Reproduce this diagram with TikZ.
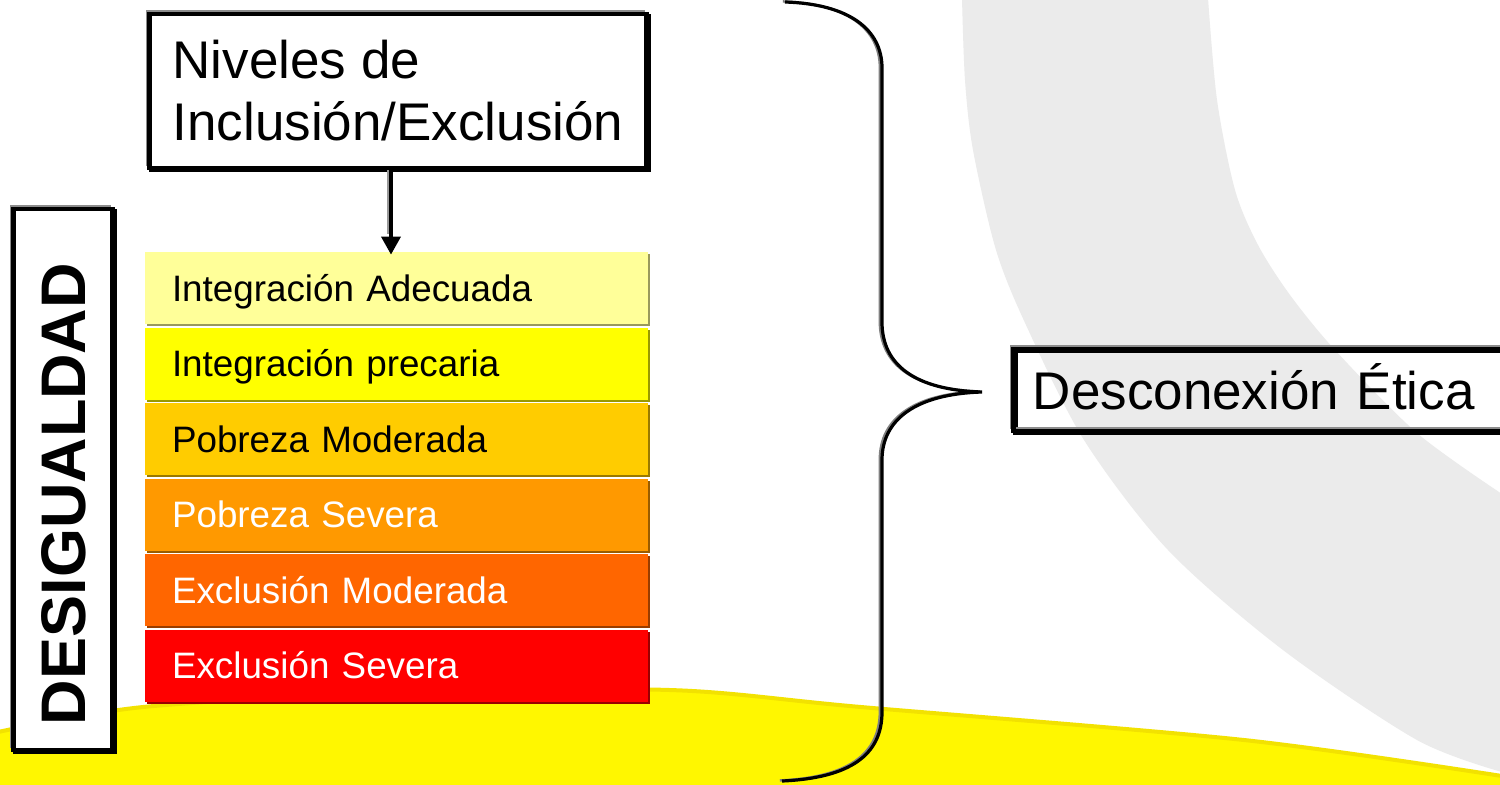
\documentclass[tikz,border=0pt]{standalone}
\usepackage{fontspec}
\setmainfont{Liberation Sans}
\usetikzlibrary{arrows.meta,shadows}
\definecolor{bggrey}{HTML}{EBEBEB}
\definecolor{bgyellow}{HTML}{FFF700}
\definecolor{bgyedge}{HTML}{F2E200}
\definecolor{lvA}{HTML}{FFFF99}
\definecolor{lvB}{HTML}{FFFF00}
\definecolor{lvC}{HTML}{FFCC00}
\definecolor{lvD}{HTML}{FF9900}
\definecolor{lvE}{HTML}{FF6600}
\definecolor{lvF}{HTML}{FF0000}
\begin{document}
\begin{tikzpicture}[x=0.5pt,y=-0.5pt,
  framebox/.style={draw=black, line width=2.2pt, fill=white, inner sep=0pt,
    general shadow={shadow xshift=1pt, shadow yshift=-1pt, draw=black, line width=2.2pt, fill=none},
    general shadow={shadow xshift=-1.3pt, shadow yshift=1.3pt, draw=black!45, line width=1pt, fill=none}},
  level/.style={fill=#1, draw=none, inner ysep=0pt, inner xsep=13.5pt,
    minimum width=251.5pt, minimum height=36pt, text width=224.5pt, align=left,
    text height=13.2pt, text depth=0pt, font=\fontsize{18.4}{22}\selectfont,
    general shadow={shadow xshift=1.2pt, shadow yshift=-1.2pt, fill=#1!60!black}},
  arr/.style={draw=black, line width=1.8pt, shorten >=-1.5pt,
    -{Triangle[length=9pt,width=9.5pt]},
    preaction={-, draw=black!40, line width=1.2pt, shorten >=9pt, transform canvas={shift={(-1.2pt,0pt)}}}},
  bracestyle/.style={draw=black, line width=1.6pt,
    preaction={draw=black!50, line width=1.2pt, transform canvas={shift={(-1.1pt,0.3pt)}}}}
]
\useasboundingbox (0,0) rectangle (1500,784);
\begin{scope}
\clip (0,0) rectangle (1500,784);
\fill[white] (0,0) rectangle (1500,784);
% grey background band
\fill[bggrey] plot[smooth] coordinates {(962,-2) (965,80) (973,150) (996,250) (1026,325) (1084,440) (1168,550) (1283,650) (1417,740) (1502,772)}
  -- (1502,494) -- plot[smooth] coordinates {(1502,494) (1417,433) (1335,350) (1290,295) (1258,245) (1235,190) (1217,100) (1208,-2)} -- cycle;
% yellow band
\fill[bgyellow] plot[smooth] coordinates {(-2,732) (143,707) (400,692) (670,690) (861,707) (1244,740) (1502,776)} -- (1502,786) -- (-2,786) -- cycle;
\draw[bgyedge, line width=2pt] plot[smooth] coordinates {(-2,732) (143,707) (400,692) (670,690) (861,707) (1244,740) (1502,776)};

% title box
\node[framebox, minimum width=248.5pt, minimum height=77pt, align=left,
  font=\fontsize{26.5}{31}\selectfont] (niveles) at (398,91) {Niveles de\\Inclusión/Exclusión};

% levels
\node[level=lvA] (lvA) at (396.5,288) {Integración Adecuada};
\node[level=lvB] (lvB) at (396.5,363.5) {Integración precaria};
\node[level=lvC] (lvC) at (396.5,439) {Pobreza Moderada};
\node[level=lvD, text=white] (lvD) at (396.5,514.5) {Pobreza Severa};
\node[level=lvE, text=white] (lvE) at (396.5,590) {Exclusión Moderada};
\node[level=lvF, text=white] (lvF) at (396.5,665.5) {Exclusión Severa};

\draw[arr] ([xshift=-3.5pt]niveles.south) -- ([xshift=-3.5pt]niveles.south |- lvA.north);

% DESIGUALDAD
\node[framebox, rotate=90, minimum width=270.5pt, minimum height=49.5pt,
  text width=245.5pt, align=left, inner xsep=12.5pt,
  font=\fontsize{31.5}{36}\selectfont\bfseries, text height=22.6pt, text depth=0pt]
  (desig) at (63,479.5) {DESIGUALDAD};

% Desconexion box
\node[framebox, fill=none, minimum width=250.75pt, minimum height=41pt, text width=231.25pt,
  align=left, inner xsep=9.75pt, font=\fontsize{26.5}{31}\selectfont,
  text height=19pt, text depth=0pt] (desc) at (1264.1,390) {Desconexión Ética};

% brace
\coordinate (tip) at (982,392);
\draw[bracestyle] (785,2) .. controls (850,4) and (882,30) .. (882,68) -- (882,322)
  .. controls (882,365) and (915,390) .. (tip)
  .. controls (915,394) and (882,420) .. (882,460) -- (882,712)
  .. controls (882,755) and (850,778) .. (782,781);
\end{scope}
\end{tikzpicture}
\end{document}
